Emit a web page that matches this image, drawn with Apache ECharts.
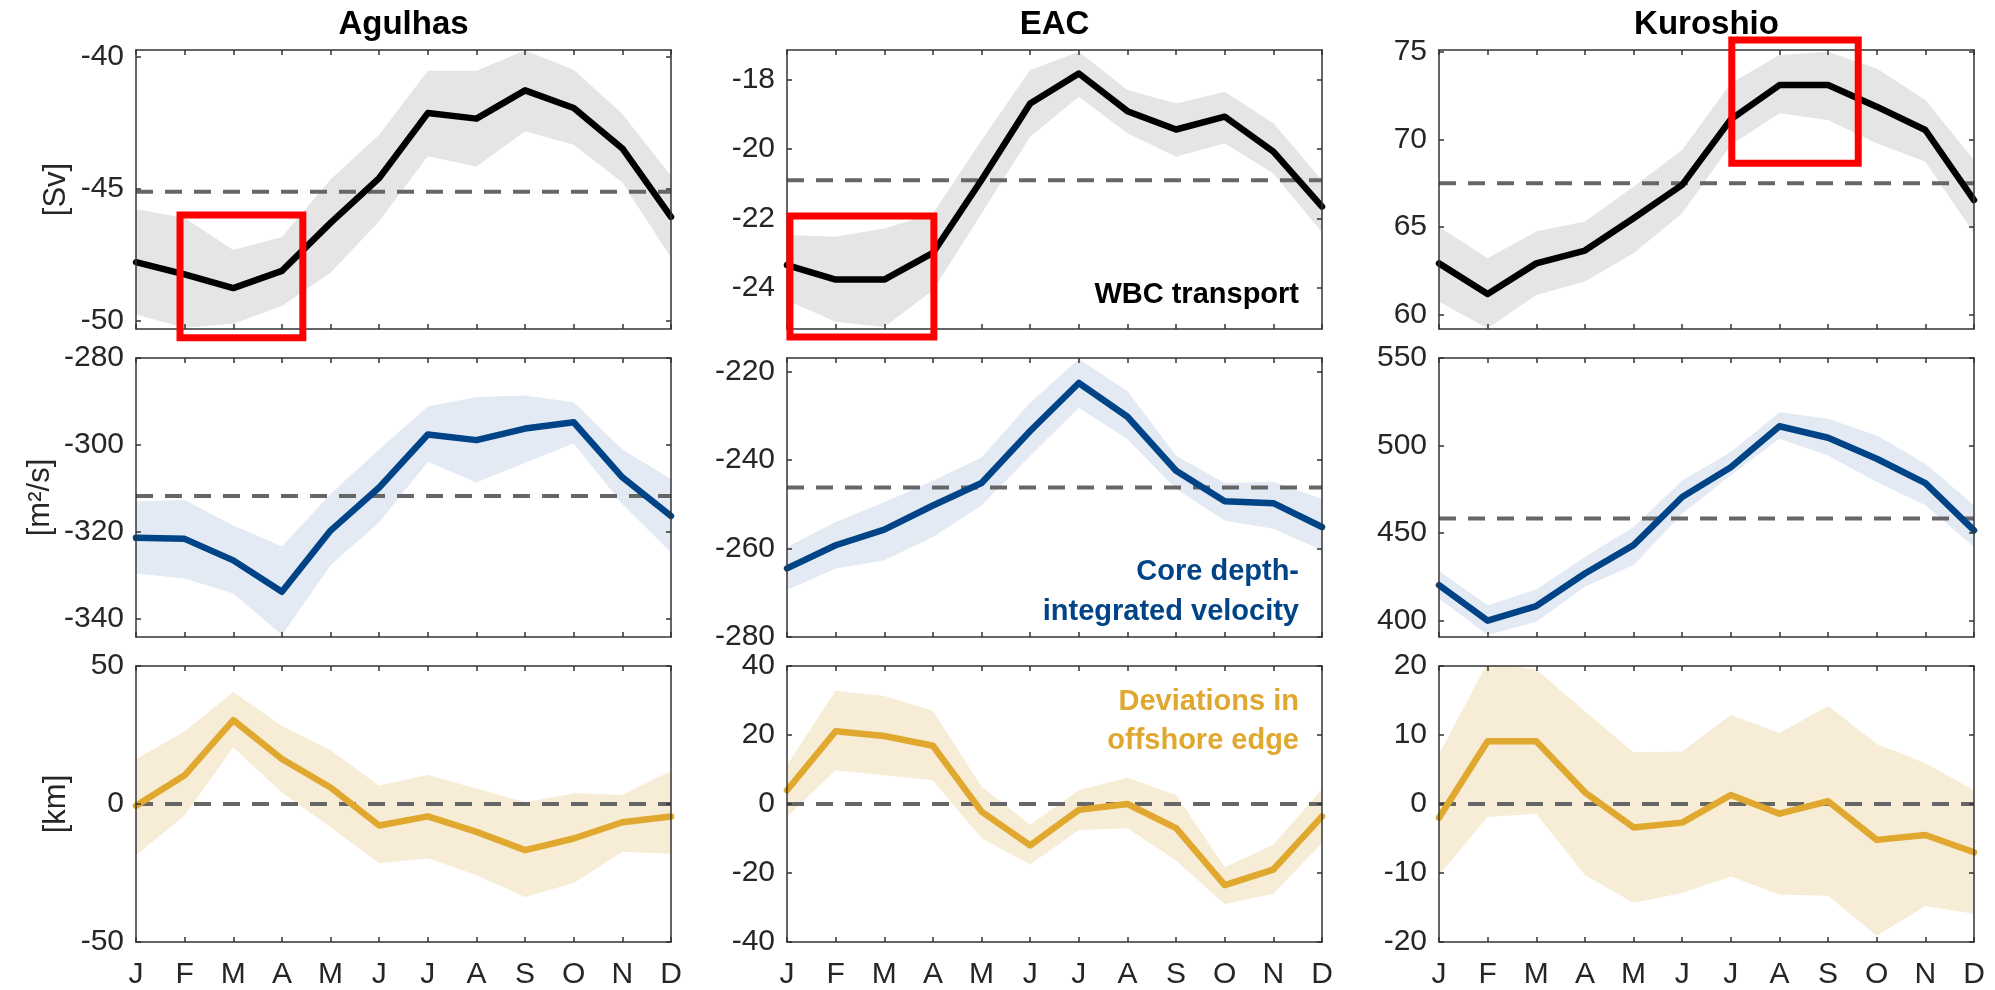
<!DOCTYPE html>
<html>
<head>
<meta charset="utf-8">
<script src="https://cdn.jsdelivr.net/npm/echarts@6/dist/echarts.min.js"></script>
<style>
html,body{margin:0;padding:0;background:#fff;}
#chart{width:1995px;height:990px;}
</style>
</head>
<body>
<div id="chart"></div>
<script>
// ---------- categories / labels ----------
const months = ['J','F','M','A','M','J','J','A','S','O','N','D'];
const currents = ['Agulhas','EAC','Kuroshio'];
const rowUnits = ['[Sv]','[m²/s]','[km]'];
const rowNotes = [['WBC transport'], ['Core depth-','integrated velocity'], ['Deviations in','offshore edge']];

// ---------- Row 1: WBC transport [Sv] ----------
const agulhasTransport   = [-47.77,-48.23,-48.75,-48.10,-46.28,-44.58,-42.12,-42.33,-41.26,-41.93,-43.46,-46.05];
const agulhasTransportHi = [-45.75,-46.09,-47.31,-46.81,-44.64,-42.94,-40.52,-40.52,-39.75,-40.48,-42.15,-44.50];
const agulhasTransportLo = [-49.75,-50.25,-50.10,-49.43,-48.17,-46.22,-43.76,-44.14,-42.81,-43.32,-44.75,-47.60];

const eacTransport   = [-23.35,-23.77,-23.77,-23.00,-20.89,-18.68,-17.81,-18.90,-19.43,-19.06,-20.07,-21.66];
const eacTransportHi = [-22.48,-22.53,-22.29,-21.86,-19.74,-17.71,-17.18,-18.29,-18.68,-18.34,-19.25,-20.90];
const eacTransportLo = [-24.37,-24.99,-25.14,-24.08,-21.86,-19.64,-18.48,-19.54,-20.22,-19.83,-20.70,-22.40];

const kuroTransport   = [62.94,61.20,62.94,63.67,65.51,67.41,71.15,73.10,73.10,71.87,70.54,66.55];
const kuroTransportHi = [65.03,63.23,64.75,65.32,67.31,69.40,73.20,74.81,75.00,74.05,72.25,68.83];
const kuroTransportLo = [60.76,59.24,61.14,61.90,63.51,65.79,69.68,71.49,71.11,69.78,68.73,64.65];

// ---------- Row 2: core depth-integrated velocity [m2/s] ----------
const agulhasVelocity   = [-321.45,-321.68,-326.64,-333.89,-319.77,-309.85,-297.63,-298.93,-296.26,-294.81,-307.50,-316.40];
const agulhasVelocityHi = [-313.05,-312.75,-318.63,-323.36,-311.37,-301.07,-291.15,-289.00,-288.63,-290.20,-301.10,-307.90];
const agulhasVelocityLo = [-329.69,-330.84,-334.27,-343.82,-327.79,-317.86,-303.97,-308.70,-304.12,-299.70,-313.70,-324.80];

const eacVelocity   = [-264.49,-259.25,-255.73,-250.26,-245.17,-233.41,-222.55,-230.19,-242.40,-249.29,-249.74,-255.13];
const eacVelocityHi = [-259.63,-254.00,-249.51,-244.64,-239.40,-227.04,-217.15,-224.42,-239.03,-245.17,-244.87,-248.76];
const eacVelocityLo = [-269.36,-264.49,-262.62,-257.38,-250.26,-239.03,-228.16,-235.28,-246.52,-253.63,-255.51,-260.37];

const kuroVelocity   = [420.15,399.8,408.2,426.8,443.0,470.5,487.6,511.0,504.4,492.4,478.5,451.5];
const kuroVelocityHi = [428.3,408.7,417.7,436.3,453.4,480.0,496.2,519.0,515.2,505.7,489.5,465.8];
const kuroVelocityLo = [412.5,391.6,399.2,419.2,431.6,461.0,482.9,503.8,494.3,479.1,465.8,442.0];

// ---------- Row 3: deviations in offshore edge [km] ----------
const agulhasEdge   = [-0.6,10.4,30.4,16.3,6.0,-7.8,-4.5,-10.1,-16.7,-12.5,-6.6,-4.5];
const agulhasEdgeHi = [16.3,26.3,40.6,28.3,19.5,6.6,10.5,5.6,0.6,3.9,3.3,12.0];
const agulhasEdgeLo = [-18.5,-4.2,20.6,4.2,-8.4,-21.5,-19.7,-25.7,-33.7,-28.6,-17.3,-18.0];

const eacEdge   = [4.0,21.1,19.7,16.9,-2.2,-12.0,-1.7,0.0,-7.0,-23.5,-19.0,-3.6];
const eacEdgeHi = [11.2,32.8,31.3,27.0,5.0,-6.0,4.0,7.6,2.6,-18.3,-11.8,4.3];
const eacEdgeLo = [-3.6,9.8,8.3,6.9,-9.9,-17.5,-7.5,-7.0,-16.4,-29.0,-26.0,-11.3];

const kuroEdge   = [-2.0,9.1,9.1,1.7,-3.4,-2.7,1.3,-1.4,0.4,-5.2,-4.5,-7.0];
const kuroEdgeHi = [7.2,20.5,19.5,13.4,7.5,7.6,12.9,10.3,14.2,8.7,5.9,2.0];
const kuroEdgeLo = [-10.3,-1.9,-1.4,-10.3,-14.3,-12.9,-10.5,-13.1,-13.3,-19.1,-14.8,-15.9];

// ---------- reference (dashed) levels, row-major ----------
const meanLevels = [-45.1, -20.9, 67.5, -311.8, -246.2, 458.2, 0, 0, 0];

// ---------- axis extents and tick labels, row-major ----------
const yMins = [-50.3, -25.2, 59.2, -344.3, -280, 390.5, -50, -40, -20];
const yMaxs = [-39.73, -17.13, 75.1, -280, -216.9, 550, 50, 40, 20];
const yTicks = [
  [-50,-45,-40], [-24,-22,-20,-18], [60,65,70,75],
  [-340,-320,-300,-280], [-280,-260,-240,-220], [400,450,500,550],
  [-50,0,50], [-40,-20,0,20,40], [-20,-10,0,10,20]
];

// ---------- highlighted boxes (data coords: month index, value) ----------
const boxPanel = [0, 1, 2];
const boxMonthFrom = [0.905, 0.06, 6.02];
const boxMonthTo   = [3.43, 3.02, 8.62];
const boxValueFrom = [-45.98, -21.93, 75.67];
const boxValueTo   = [-50.63, -25.43, 68.64];

const panelMeans = [agulhasTransport, eacTransport, kuroTransport, agulhasVelocity, eacVelocity, kuroVelocity, agulhasEdge, eacEdge, kuroEdge];
const panelHi = [agulhasTransportHi, eacTransportHi, kuroTransportHi, agulhasVelocityHi, eacVelocityHi, kuroVelocityHi, agulhasEdgeHi, eacEdgeHi, kuroEdgeHi];
const panelLo = [agulhasTransportLo, eacTransportLo, kuroTransportLo, agulhasVelocityLo, eacVelocityLo, kuroVelocityLo, agulhasEdgeLo, eacEdgeLo, kuroEdgeLo];

// ---------- styling ----------
const FONT = '"Liberation Sans", Arial, Helvetica, sans-serif';
const lineColors = ['#000000', '#004487', '#e0a82e'];
const bandColors = ['#e5e5e5', '#e3eaf4', '#f7ecd5'];
const noteColors = ['#000000', '#004487', '#dfa830'];
const axisColor = '#333333';
const labelColor = '#262626';
const colLeft = [136, 787, 1439];
const colWidth = 535;
const rowTop = [50, 358, 666];
const rowHeight = 279;
const nameGaps = [64, 80, 64];
const TICK_FS = 30;

const grid = [], xAxis = [], yAxis = [], series = [];

for (let r = 0; r < 3; r++) {
  for (let c = 0; c < 3; c++) {
    const k = r * 3 + c;
    grid.push({left: colLeft[c], top: rowTop[r], width: colWidth, height: rowHeight, show: false});
    const tickStyle = {show: true, inside: true, length: 5, lineStyle: {color: axisColor, width: 1.5}};
    const lineStyleAx = {show: true, onZero: false, lineStyle: {color: axisColor, width: 1.5}};
    xAxis.push({
      gridIndex: k, type: 'value', min: 0, max: 11, interval: 1, position: 'bottom', z: 5,
      axisLine: lineStyleAx, splitLine: {show: false}, axisTick: tickStyle,
      axisLabel: {show: r === 2, formatter: v => months[v], fontSize: TICK_FS, color: labelColor,
        fontFamily: FONT, margin: 18, showMinLabel: true, showMaxLabel: true}
    });
    xAxis.push({
      gridIndex: k, type: 'value', min: 0, max: 11, interval: 1, position: 'top', z: 5,
      axisLine: lineStyleAx, splitLine: {show: false}, axisTick: tickStyle, axisLabel: {show: false}
    });
    yAxis.push({
      gridIndex: k, type: 'value', min: yMins[k], max: yMaxs[k], position: 'left', z: 5,
      axisLine: lineStyleAx, splitLine: {show: false},
      axisTick: Object.assign({}, tickStyle, {customValues: yTicks[k]}),
      axisLabel: {customValues: yTicks[k], fontSize: TICK_FS, color: labelColor, fontFamily: FONT, margin: 12},
      name: c === 0 ? rowUnits[r] : '', nameLocation: 'middle', nameGap: nameGaps[r],
      nameTextStyle: {fontSize: 31, color: labelColor, fontFamily: FONT}
    });
    yAxis.push({
      gridIndex: k, type: 'value', min: yMins[k], max: yMaxs[k], position: 'right', z: 5,
      axisLine: lineStyleAx, splitLine: {show: false},
      axisTick: Object.assign({}, tickStyle, {customValues: yTicks[k]}),
      axisLabel: {show: false}
    });
    const hi = panelHi[k], lo = panelLo[k], mean = panelMeans[k];
    // uncertainty band
    series.push({
      type: 'custom', xAxisIndex: 2 * k, yAxisIndex: 2 * k, z: 1, silent: true,
      data: [[0, lo[0]]],
      renderItem: function (params, api) {
        const pts = [];
        for (let i = 0; i < hi.length; i++) pts.push(api.coord([i, hi[i]]));
        for (let i = lo.length - 1; i >= 0; i--) pts.push(api.coord([i, lo[i]]));
        const cs = params.coordSys;
        return {
          type: 'polygon', shape: {points: pts}, style: {fill: bandColors[r]},
          clipPath: {type: 'rect', shape: {x: cs.x, y: cs.y, width: cs.width, height: cs.height}}
        };
      }
    });
    // dashed reference level
    series.push({
      type: 'line', xAxisIndex: 2 * k, yAxisIndex: 2 * k, z: 2, silent: true,
      data: [[0, meanLevels[k]], [11, meanLevels[k]]], symbol: 'none',
      lineStyle: {color: '#666666', width: 4, type: [17, 12]}
    });
    // monthly climatology
    series.push({
      type: 'line', xAxisIndex: 2 * k, yAxisIndex: 2 * k, z: 3, silent: true,
      data: mean.map((v, i) => [i, v]), symbol: 'none', clip: true,
      lineStyle: {color: lineColors[r], width: 6.5, join: 'round', cap: 'round'}
    });
  }
}

// text graphics: titles and panel notes
const graphics = [];
for (let c = 0; c < 3; c++) {
  graphics.push({type: 'text', x: colLeft[c] + colWidth / 2, y: 25, z: 50,
    style: {text: currents[c], font: 'bold 33px ' + FONT, fill: '#000',
      textAlign: 'center', align: 'center', textVerticalAlign: 'middle', verticalAlign: 'middle'}});
}
const noteY = [[295], [572, 612], [702, 741]];
for (let r = 0; r < 3; r++) {
  rowNotes[r].forEach((t, j) => {
    graphics.push({type: 'text', x: 1299, y: noteY[r][j], z: 50,
      style: {text: t, font: 'bold 29px ' + FONT, fill: noteColors[r],
        textAlign: 'right', align: 'right', textVerticalAlign: 'middle', verticalAlign: 'middle'}});
  });
}

const chart = echarts.init(document.getElementById('chart'), null, {renderer: 'canvas'});
chart.setOption({
  animation: false,
  backgroundColor: '#ffffff',
  grid: grid, xAxis: xAxis, yAxis: yAxis, series: series,
  graphic: graphics
});

// red highlight boxes, positioned through the axes' scales
const boxes = boxPanel.map((k, i) => {
  const p0 = chart.convertToPixel({xAxisIndex: 2 * k, yAxisIndex: 2 * k}, [boxMonthFrom[i], boxValueFrom[i]]);
  const p1 = chart.convertToPixel({xAxisIndex: 2 * k, yAxisIndex: 2 * k}, [boxMonthTo[i], boxValueTo[i]]);
  return {type: 'rect', z: 60,
    shape: {x: Math.min(p0[0], p1[0]), y: Math.min(p0[1], p1[1]),
      width: Math.abs(p1[0] - p0[0]), height: Math.abs(p1[1] - p0[1])},
    style: {fill: 'none', stroke: '#ff0000', lineWidth: 7}};
});
chart.setOption({graphic: graphics.concat(boxes)});
</script>
</body>
</html>
